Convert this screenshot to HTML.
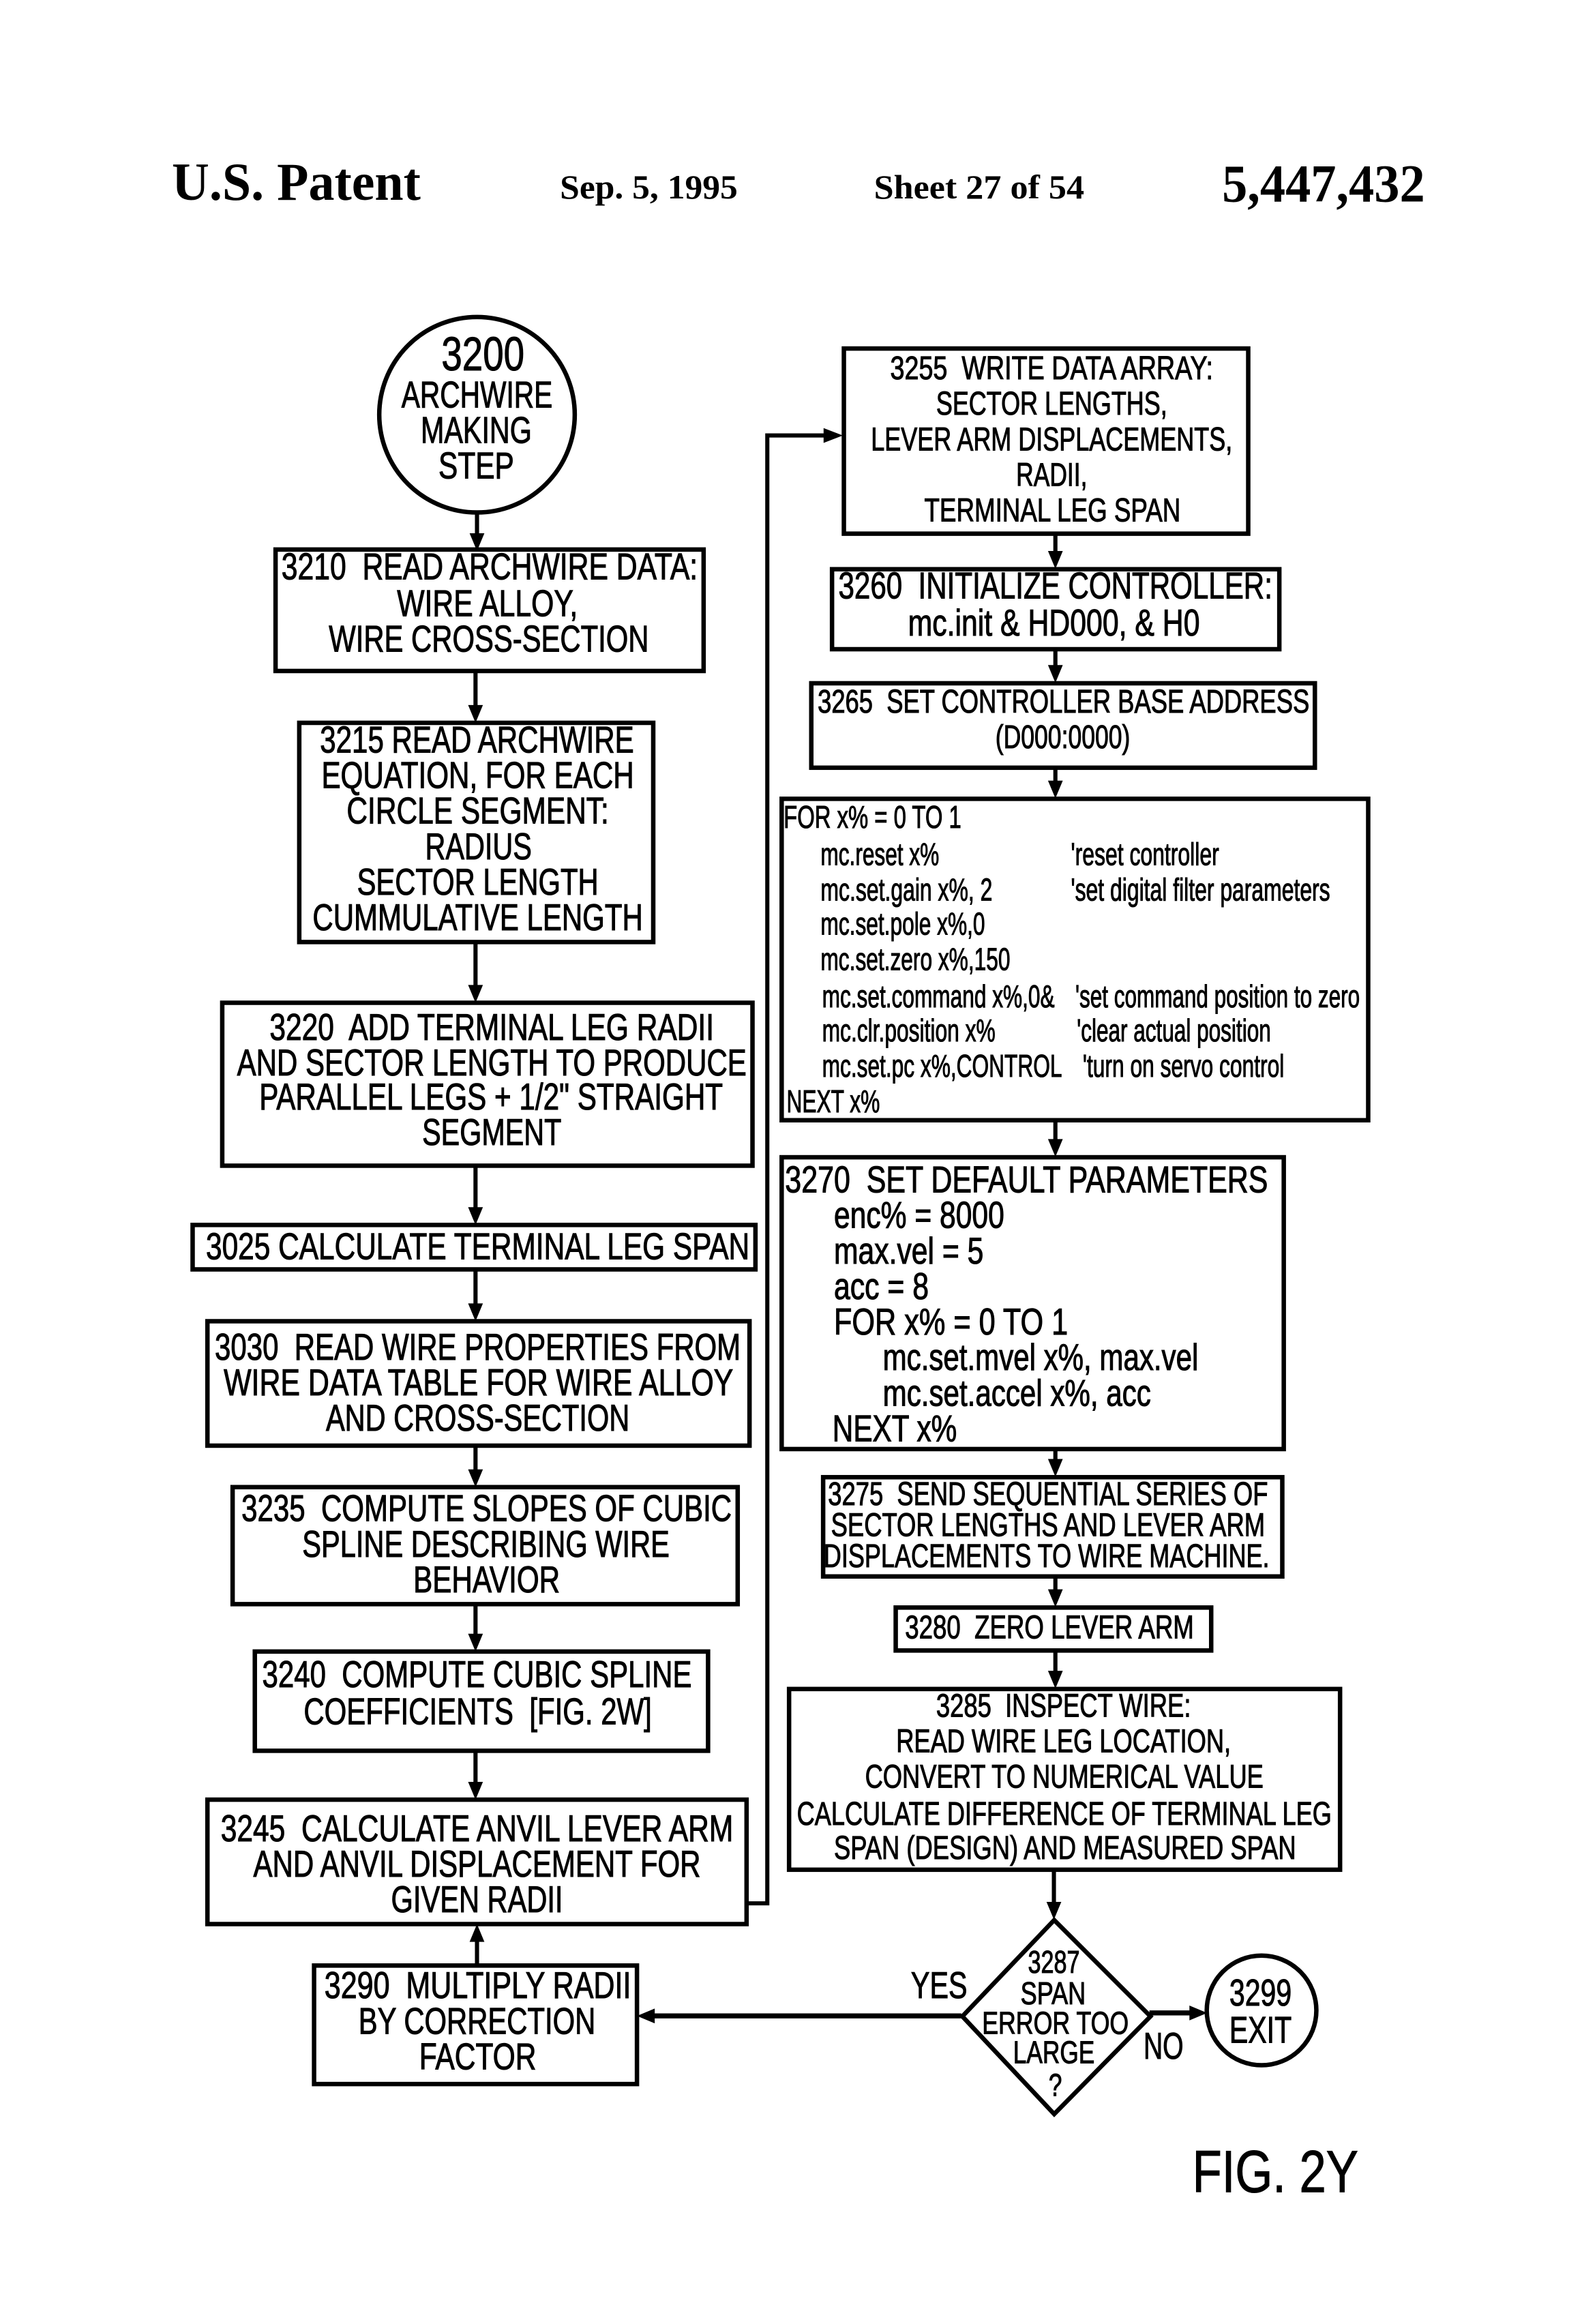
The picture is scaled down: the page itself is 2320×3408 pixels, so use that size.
<!DOCTYPE html>
<html><head><meta charset="utf-8"><style>
html,body{margin:0;padding:0;background:#fff}
svg{display:block}
text{font-family:"Liberation Sans",sans-serif;font-size:25px;fill:#000;stroke:#000;stroke-width:.5px;white-space:pre}
.s{font-size:22px}
.c{font-size:21.5px}
.h{font-family:"Liberation Serif",serif;font-weight:bold;stroke:none}
rect,circle,polygon.b{fill:none;stroke:#000;stroke-width:3}
line,polyline{stroke:#000;stroke-width:2.8;fill:none}
polygon.a{fill:#000;stroke:none}
</style></head><body>
<svg xmlns="http://www.w3.org/2000/svg" width="2320" height="3408" viewBox="0 0 1068 1569">
<rect x="0" y="0" width="1068" height="1569" style="fill:#fff;stroke:none"/>
<!-- header -->
<text class="h" x="116" y="135" style="font-size:36px" textLength="168" lengthAdjust="spacingAndGlyphs">U.S. Patent</text>
<text class="h" x="378" y="134" style="font-size:23px" textLength="120" lengthAdjust="spacingAndGlyphs">Sep. 5, 1995</text>
<text class="h" x="590" y="134" style="font-size:23px" textLength="142" lengthAdjust="spacingAndGlyphs">Sheet 27 of 54</text>
<text class="h" x="825" y="136" style="font-size:36px" textLength="137" lengthAdjust="spacingAndGlyphs">5,447,432</text>
<!-- left shapes -->
<circle cx="322" cy="280" r="66"/>
<rect x="186" y="371" width="289" height="82"/>
<rect x="202" y="488" width="239" height="148"/>
<rect x="150" y="677" width="358" height="110"/>
<rect x="130" y="827" width="380" height="30"/>
<rect x="140" y="892" width="366" height="84"/>
<rect x="157" y="1004" width="341" height="79"/>
<rect x="172" y="1115" width="306" height="67"/>
<rect x="140" y="1215" width="364" height="84"/>
<rect x="212" y="1327" width="218" height="80"/>
<g transform="translate(.7,.3)">
<rect x="569" y="235" width="273" height="125"/>
<rect x="561" y="384" width="302" height="54"/>
<rect x="547" y="461" width="340" height="57"/>
<rect x="527" y="539" width="396" height="217"/>
<rect x="527" y="781" width="339" height="197"/>
<rect x="555" y="997" width="310" height="67"/>
<rect x="604" y="1085" width="213" height="29"/>
<rect x="532" y="1140" width="372" height="122"/>
<polygon class="b" points="711,1296 776,1361 711,1427 649,1361"/>
<circle cx="851" cy="1357" r="37"/>
</g>
<!-- connectors -->
<g>
<line x1="322" y1="346" x2="322" y2="362"/><polygon class="a" points="317,360 327,360 322,372"/>
<line x1="321" y1="453" x2="321" y2="478"/><polygon class="a" points="316,476 326,476 321,488"/>
<line x1="321" y1="636" x2="321" y2="667"/><polygon class="a" points="316,665 326,665 321,677"/>
<line x1="321" y1="787" x2="321" y2="817"/><polygon class="a" points="316,815 326,815 321,827"/>
<line x1="321" y1="857" x2="321" y2="882"/><polygon class="a" points="316,880 326,880 321,892"/>
<line x1="321" y1="976" x2="321" y2="994"/><polygon class="a" points="316,992 326,992 321,1004"/>
<line x1="321" y1="1083" x2="321" y2="1105"/><polygon class="a" points="316,1103 326,1103 321,1115"/>
<line x1="321" y1="1182" x2="321" y2="1205"/><polygon class="a" points="316,1203 326,1203 321,1215"/>
<line x1="322" y1="1327" x2="322" y2="1309"/><polygon class="a" points="317,1311 327,1311 322,1299"/>
<polyline points="504,1285 518,1285 518,294 558,294"/><polygon class="a" points="556,289 556,299 569,294"/>
<line x1="712.5" y1="360" x2="712.5" y2="374"/><polygon class="a" points="707.5,372 717.5,372 712.5,384"/>
<line x1="712.5" y1="438" x2="712.5" y2="451"/><polygon class="a" points="707.5,449 717.5,449 712.5,461"/>
<line x1="712.5" y1="518" x2="712.5" y2="529"/><polygon class="a" points="707.5,527 717.5,527 712.5,539"/>
<line x1="712.5" y1="756" x2="712.5" y2="771"/><polygon class="a" points="707.5,769 717.5,769 712.5,781"/>
<line x1="712.5" y1="978" x2="712.5" y2="987"/><polygon class="a" points="707.5,985 717.5,985 712.5,997"/>
<line x1="712.5" y1="1064" x2="712.5" y2="1075"/><polygon class="a" points="707.5,1073 717.5,1073 712.5,1085"/>
<line x1="712.5" y1="1114" x2="712.5" y2="1130"/><polygon class="a" points="707.5,1128 717.5,1128 712.5,1140"/>
<line x1="711.5" y1="1262" x2="711.5" y2="1286"/><polygon class="a" points="706.5,1284 716.5,1284 711.5,1296"/>
<line x1="649" y1="1361" x2="440" y2="1361" style="stroke-width:3.4"/><polygon class="a" points="442,1356 442,1366 430,1361"/>
<line x1="776" y1="1359" x2="805" y2="1359" style="stroke-width:3.4"/><polygon class="a" points="803,1354 803,1364 815,1359"/>
</g>
<!-- left column text -->
<text x="298" y="250" style="font-size:32px" textLength="56" lengthAdjust="spacingAndGlyphs">3200</text>
<text x="271" y="275" textLength="102" lengthAdjust="spacingAndGlyphs">ARCHWIRE</text>
<text x="284" y="299" textLength="75" lengthAdjust="spacingAndGlyphs">MAKING</text>
<text x="296" y="323" textLength="51" lengthAdjust="spacingAndGlyphs">STEP</text>
<text x="190" y="391" textLength="281" lengthAdjust="spacingAndGlyphs">3210  READ ARCHWIRE DATA:</text>
<text x="268" y="416" textLength="122" lengthAdjust="spacingAndGlyphs">WIRE ALLOY,</text>
<text x="222" y="440" textLength="216" lengthAdjust="spacingAndGlyphs">WIRE CROSS-SECTION</text>
<text x="216" y="508" textLength="212" lengthAdjust="spacingAndGlyphs">3215 READ ARCHWIRE</text>
<text x="217" y="532" textLength="211" lengthAdjust="spacingAndGlyphs">EQUATION, FOR EACH</text>
<text x="234" y="556" textLength="177" lengthAdjust="spacingAndGlyphs">CIRCLE SEGMENT:</text>
<text x="287" y="580" textLength="72" lengthAdjust="spacingAndGlyphs">RADIUS</text>
<text x="241" y="604" textLength="163" lengthAdjust="spacingAndGlyphs">SECTOR LENGTH</text>
<text x="211" y="628" textLength="223" lengthAdjust="spacingAndGlyphs">CUMMULATIVE LENGTH</text>
<text x="182" y="702" textLength="300" lengthAdjust="spacingAndGlyphs">3220  ADD TERMINAL LEG RADII</text>
<text x="160" y="726" textLength="344" lengthAdjust="spacingAndGlyphs">AND SECTOR LENGTH TO PRODUCE</text>
<text x="175" y="749" textLength="313" lengthAdjust="spacingAndGlyphs">PARALLEL LEGS + 1/2" STRAIGHT</text>
<text x="285" y="773" textLength="94" lengthAdjust="spacingAndGlyphs">SEGMENT</text>
<text x="139" y="850" textLength="367" lengthAdjust="spacingAndGlyphs">3025 CALCULATE TERMINAL LEG SPAN</text>
<text x="145" y="918" textLength="355" lengthAdjust="spacingAndGlyphs">3030  READ WIRE PROPERTIES FROM</text>
<text x="151" y="942" textLength="344" lengthAdjust="spacingAndGlyphs">WIRE DATA TABLE FOR WIRE ALLOY</text>
<text x="220" y="966" textLength="205" lengthAdjust="spacingAndGlyphs">AND CROSS-SECTION</text>
<text x="163" y="1027" textLength="331" lengthAdjust="spacingAndGlyphs">3235  COMPUTE SLOPES OF CUBIC</text>
<text x="204" y="1051" textLength="248" lengthAdjust="spacingAndGlyphs">SPLINE DESCRIBING WIRE</text>
<text x="279" y="1075" textLength="99" lengthAdjust="spacingAndGlyphs">BEHAVIOR</text>
<text x="177" y="1139" textLength="290" lengthAdjust="spacingAndGlyphs">3240  COMPUTE CUBIC SPLINE</text>
<text x="205" y="1164" textLength="235" lengthAdjust="spacingAndGlyphs">COEFFICIENTS  [FIG. 2W]</text>
<text x="149" y="1243" textLength="346" lengthAdjust="spacingAndGlyphs">3245  CALCULATE ANVIL LEVER ARM</text>
<text x="171" y="1267" textLength="302" lengthAdjust="spacingAndGlyphs">AND ANVIL DISPLACEMENT FOR</text>
<text x="264" y="1291" textLength="116" lengthAdjust="spacingAndGlyphs">GIVEN RADII</text>
<text x="219" y="1349" textLength="207" lengthAdjust="spacingAndGlyphs">3290  MULTIPLY RADII</text>
<text x="242" y="1373" textLength="160" lengthAdjust="spacingAndGlyphs">BY CORRECTION</text>
<text x="283" y="1397" textLength="79" lengthAdjust="spacingAndGlyphs">FACTOR</text>
<!-- right column text -->
<text class="s" x="601" y="256" textLength="218" lengthAdjust="spacingAndGlyphs">3255  WRITE DATA ARRAY:</text>
<text class="s" x="632" y="280" textLength="156" lengthAdjust="spacingAndGlyphs">SECTOR LENGTHS,</text>
<text class="s" x="588" y="304" textLength="244" lengthAdjust="spacingAndGlyphs">LEVER ARM DISPLACEMENTS,</text>
<text class="s" x="686" y="328" textLength="48" lengthAdjust="spacingAndGlyphs">RADII,</text>
<text class="s" x="624" y="352" textLength="173" lengthAdjust="spacingAndGlyphs">TERMINAL LEG SPAN</text>
<text x="566" y="404" textLength="293" lengthAdjust="spacingAndGlyphs">3260  INITIALIZE CONTROLLER:</text>
<text x="613" y="429" textLength="197" lengthAdjust="spacingAndGlyphs">mc.init &amp; HD000, &amp; H0</text>
<text class="s" x="552" y="481" textLength="332" lengthAdjust="spacingAndGlyphs">3265  SET CONTROLLER BASE ADDRESS</text>
<text class="s" x="672" y="505" textLength="91" lengthAdjust="spacingAndGlyphs">(D000:0000)</text>
<text class="c" x="529" y="559" textLength="120" lengthAdjust="spacingAndGlyphs">FOR x% = 0 TO 1</text>
<text class="c" x="554" y="584" textLength="80" lengthAdjust="spacingAndGlyphs">mc.reset x%</text>
<text class="c" x="723" y="584" textLength="100" lengthAdjust="spacingAndGlyphs">'reset controller</text>
<text class="c" x="554" y="608" textLength="116" lengthAdjust="spacingAndGlyphs">mc.set.gain x%, 2</text>
<text class="c" x="723" y="608" textLength="175" lengthAdjust="spacingAndGlyphs">'set digital filter parameters</text>
<text class="c" x="554" y="631" textLength="111" lengthAdjust="spacingAndGlyphs">mc.set.pole x%,0</text>
<text class="c" x="554" y="655" textLength="128" lengthAdjust="spacingAndGlyphs">mc.set.zero x%,150</text>
<text class="c" x="555" y="680" textLength="157" lengthAdjust="spacingAndGlyphs">mc.set.command x%,0&amp;</text>
<text class="c" x="726" y="680" textLength="192" lengthAdjust="spacingAndGlyphs">'set command position to zero</text>
<text class="c" x="555" y="703" textLength="117" lengthAdjust="spacingAndGlyphs">mc.clr.position x%</text>
<text class="c" x="727" y="703" textLength="131" lengthAdjust="spacingAndGlyphs">'clear actual position</text>
<text class="c" x="555" y="727" textLength="162" lengthAdjust="spacingAndGlyphs">mc.set.pc x%,CONTROL</text>
<text class="c" x="731" y="727" textLength="136" lengthAdjust="spacingAndGlyphs">'turn on servo control</text>
<text class="c" x="531" y="751" textLength="63" lengthAdjust="spacingAndGlyphs">NEXT x%</text>
<text x="530" y="805" textLength="326" lengthAdjust="spacingAndGlyphs">3270  SET DEFAULT PARAMETERS</text>
<text x="563" y="829" textLength="115" lengthAdjust="spacingAndGlyphs">enc% = 8000</text>
<text x="563" y="853" textLength="101" lengthAdjust="spacingAndGlyphs">max.vel = 5</text>
<text x="563" y="877" textLength="64" lengthAdjust="spacingAndGlyphs">acc = 8</text>
<text x="563" y="901" textLength="158" lengthAdjust="spacingAndGlyphs">FOR x% = 0 TO 1</text>
<text x="596" y="925" textLength="213" lengthAdjust="spacingAndGlyphs">mc.set.mvel x%, max.vel</text>
<text x="596" y="949" textLength="181" lengthAdjust="spacingAndGlyphs">mc.set.accel x%, acc</text>
<text x="562" y="973" textLength="84" lengthAdjust="spacingAndGlyphs">NEXT x%</text>
<text class="s" x="559" y="1016" textLength="297" lengthAdjust="spacingAndGlyphs">3275  SEND SEQUENTIAL SERIES OF</text>
<text class="s" x="561" y="1037" textLength="293" lengthAdjust="spacingAndGlyphs">SECTOR LENGTHS AND LEVER ARM</text>
<text class="s" x="556" y="1058" textLength="301" lengthAdjust="spacingAndGlyphs">DISPLACEMENTS TO WIRE MACHINE.</text>
<text class="s" x="611" y="1106" textLength="195" lengthAdjust="spacingAndGlyphs">3280  ZERO LEVER ARM</text>
<text class="s" x="632" y="1159" textLength="172" lengthAdjust="spacingAndGlyphs">3285  INSPECT WIRE:</text>
<text class="s" x="605" y="1183" textLength="226" lengthAdjust="spacingAndGlyphs">READ WIRE LEG LOCATION,</text>
<text class="s" x="584" y="1207" textLength="269" lengthAdjust="spacingAndGlyphs">CONVERT TO NUMERICAL VALUE</text>
<text class="s" x="538" y="1232" textLength="361" lengthAdjust="spacingAndGlyphs">CALCULATE DIFFERENCE OF TERMINAL LEG</text>
<text class="s" x="563" y="1255" textLength="312" lengthAdjust="spacingAndGlyphs">SPAN (DESIGN) AND MEASURED SPAN</text>
<!-- decision -->
<text class="c" x="694" y="1332" textLength="35" lengthAdjust="spacingAndGlyphs">3287</text>
<text class="c" x="689" y="1353" textLength="44" lengthAdjust="spacingAndGlyphs">SPAN</text>
<text class="c" x="663" y="1373" textLength="99" lengthAdjust="spacingAndGlyphs">ERROR TOO</text>
<text class="c" x="684" y="1393" textLength="55" lengthAdjust="spacingAndGlyphs">LARGE</text>
<text class="c" x="708" y="1415" textLength="9" lengthAdjust="spacingAndGlyphs">?</text>
<text x="615" y="1349" textLength="38" lengthAdjust="spacingAndGlyphs">YES</text>
<text x="772" y="1390" textLength="27" lengthAdjust="spacingAndGlyphs">NO</text>
<text x="830" y="1354" textLength="42" lengthAdjust="spacingAndGlyphs">3299</text>
<text x="830" y="1379" textLength="42" lengthAdjust="spacingAndGlyphs">EXIT</text>
<text x="805" y="1480" style="font-size:40px" textLength="112" lengthAdjust="spacingAndGlyphs">FIG. 2Y</text>
</svg>
</body></html>
